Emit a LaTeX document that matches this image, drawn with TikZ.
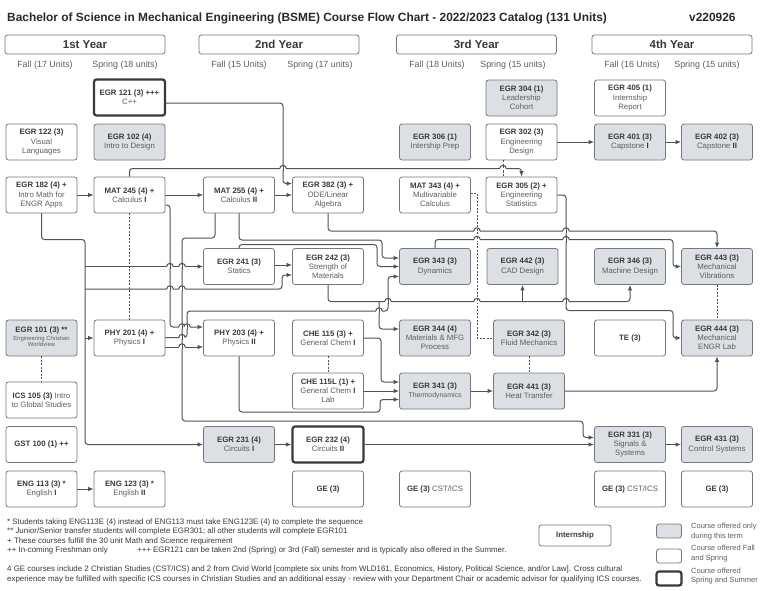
\documentclass[tikz,border=0pt]{standalone}
\usepackage{fontspec}
\setmainfont{Liberation Sans}
\usepackage{tikz}
\usetikzlibrary{arrows.meta}

\definecolor{linegray}{HTML}{4F5257}
\definecolor{boxgray}{HTML}{74777C}
\definecolor{termfill}{HTML}{DCDFE4}
\definecolor{darktext}{HTML}{3A3A3A}
\definecolor{subtext}{HTML}{5E5E5E}
\definecolor{titletext}{HTML}{2A2A2A}

\tikzset{
  course/.style={draw=boxgray, line width=0.8pt, rounded corners=2.5pt, fill=white,
    minimum width=71pt, minimum height=36pt, inner sep=1pt, align=center,
    font=\fontsize{7.8}{9.2}\selectfont, text=subtext},
  termonly/.style={course, fill=termfill},
  summer/.style={course, draw=darktext, line width=2.2pt},
  yearbox/.style={draw=boxgray, line width=0.8pt, rounded corners=2.5pt,
    minimum width=160pt, minimum height=19pt, inner sep=0pt,
    font=\fontsize{11.5}{13}\selectfont\bfseries, text=darktext},
  termlbl/.style={inner sep=0pt, font=\fontsize{8.9}{10}\selectfont, text=subtext},
  note/.style={anchor=base west, inner sep=0pt, font=\fontsize{7.9}{9}\selectfont, text=darktext},
  keytext/.style={anchor=west, inner sep=0pt, align=left, font=\fontsize{7.5}{9.4}\selectfont, text=subtext},
  linkline/.style={draw=linegray, line width=1pt, rounded corners=3pt},
  link/.style={linkline, -{Latex[length=5.5pt,width=4.5pt]}},
  coreq/.style={draw=linegray, line width=0.9pt, dash pattern=on 2pt off 1.5pt},
}

% course code in bold, title lines follow in grey
\newcommand{\code}[1]{\textcolor{darktext}{\textbf{#1}}}
\newcommand{\crs}[2]{\code{#1}\\#2}
\newcommand{\tinyline}[2]{{\fontsize{#1}{#1}\selectfont #2}}
% line hop over a vertical line
\newcommand{\hop}[3][link]{%
  \fill[white] (#2-3.2,#3-1.6) rectangle (#2+3.2,#3+1.6);
  \draw[#1,-] (#2,#3-2.2) -- (#2,#3+2.2);
  \draw[linkline] (#2-3.2,#3) arc[start angle=180,end angle=360,radius=3.2];}

\begin{document}
\begin{tikzpicture}[x=1pt,y=-1pt]
    \useasboundingbox (0,0) rectangle (769,590);
    \fill[white] (0,0) rectangle (769,590);

    \node[anchor=base west, inner sep=0pt, font=\fontsize{11.9}{14}\selectfont\bfseries, text=titletext] (title) at (7,21.5)
      {Bachelor of Science in Mechanical Engineering (BSME) Course Flow Chart - 2022/2023 Catalog (131 Units)};
    \node[anchor=base west, inner sep=0pt, font=\fontsize{11.9}{14}\selectfont\bfseries, text=titletext] (version) at (689,21.5) {v220926};

    \node[yearbox] (yr1) at (85,44.5) {1st Year};
    \node[yearbox] (yr2) at (279,44.5) {2nd Year};
    \node[yearbox] (yr3) at (476.5,44.5) {3rd Year};
    \node[yearbox] (yr4) at (672,44.5) {4th Year};

    \node[termlbl] (fall1) at (45,65.5) {Fall (17 Units)};
    \node[termlbl] (spr1) at (125,65.5) {Spring (18 units)};
    \node[termlbl] (fall2) at (239,65.5) {Fall (15 Units)};
    \node[termlbl] (spr2) at (320,65.5) {Spring (17 units)};
    \node[termlbl] (fall3) at (437,65.5) {Fall (18 Units)};
    \node[termlbl] (spr3) at (513,65.5) {Spring (15 units)};
    \node[termlbl] (fall4) at (632,65.5) {Fall (16 Units)};
    \node[termlbl] (spr4) at (707,65.5) {Spring (15 units)};

    % courses
    \node[summer] (egr121) at (129.5,97.5) {\crs{EGR 121 (3) +++}{C++}};
    \node[termonly] (egr304) at (521.5,98) {\crs{EGR 304 (1)}{Leadership\\Cohort}};
    \node[course] (egr405) at (630,98) {\crs{EGR 405 (1)}{Internship\\Report}};

    \node[course] (egr122) at (41.5,142) {\crs{EGR 122 (3)}{Visual\\Languages}};
    \node[termonly] (egr102) at (129.5,142) {\crs{EGR 102 (4)}{Intro to Design}};
    \node[termonly] (egr306) at (435,142) {\crs{EGR 306 (1)}{Intership Prep}};
    \node[course] (egr302) at (521.5,142) {\crs{EGR 302 (3)}{Engineering\\Design}};
    \node[termonly] (egr401) at (630,142) {\crs{EGR 401 (3)}{Capstone \code{I}}};
    \node[termonly] (egr402) at (717,142) {\crs{EGR 402 (3)}{Capstone \code{II}}};

    \node[course] (egr182) at (41.5,195) {\crs{EGR 182 (4) +}{Intro Math for\\ENGR Apps}};
    \node[course] (mat245) at (129.5,195) {\crs{MAT 245 (4) +}{Calculus \code{I}}};
    \node[course] (mat255) at (239,195) {\crs{MAT 255 (4) +}{Calculus \code{II}}};
    \node[course] (egr382) at (328,195) {\crs{EGR 382 (3) +}{ODE/Linear\\Algebra}};
    \node[course] (mat343) at (435,195) {\crs{MAT 343 (4) +}{Multivariable\\Calculus}};
    \node[course] (egr305) at (521.5,195) {\crs{EGR 305 (2) +}{Engineering\\Statistics}};

    \node[course] (egr241) at (239,266.5) {\crs{EGR 241 (3)}{Statics}};
    \node[course] (egr242) at (328,266.5) {\crs{EGR 242 (3)}{Strength of\\Materials}};
    \node[termonly] (egr343) at (435,266.5) {\crs{EGR 343 (3)}{Dynamics}};
    \node[termonly] (egr442) at (522.5,266.5) {\crs{EGR 442 (3)}{CAD Design}};
    \node[termonly] (egr346) at (630,266.5) {\crs{EGR 346 (3)}{Machine Design}};
    \node[termonly] (egr443) at (717,266.5) {\crs{EGR 443 (3)}{Mechanical\\Vibrations}};

    \node[termonly] (egr101) at (41.5,338) {\crs{EGR 101 (3) **}{\fontsize{5.9}{6.8}\selectfont\begin{tabular}{@{}c@{}}Engineering Christian\\Worldview\end{tabular}}};
    \node[course] (phy201) at (129.5,338) {\crs{PHY 201 (4) +}{Physics \code{I}}};
    \node[course] (phy203) at (239,338) {\crs{PHY 203 (4) +}{Physics \code{II}}};
    \node[course] (che115) at (328,338) {\crs{CHE 115 (3) +}{General Chem \code{I}}};
    \node[termonly] (egr344) at (435,338) {\crs{EGR 344 (4)}{Materials \& MFG\\Process}};
    \node[termonly] (egr342) at (529,338) {\crs{EGR 342 (3)}{Fluid Mechanics}};
    \node[course] (te) at (630,338) {\code{TE (3)}};
    \node[termonly] (egr444) at (717,338) {\crs{EGR 444 (3)}{Mechanical\\ENGR Lab}};

    \node[course] (ics105) at (41.5,400) {\code{ICS 105 (3)} Intro\\to Global Studies};
    \node[course] (che115l) at (328,391) {\crs{CHE 115L (1) +}{General Chem \code{I}\\Lab}};
    \node[termonly] (egr341) at (435,391) {\crs{EGR 341 (3)}{\tinyline{6.9}{Thermodynamics}}};
    \node[termonly] (egr441) at (529,391) {\crs{EGR 441 (3)}{Heat Transfer}};

    \node[course] (gst100) at (41.5,444.5) {\code{GST 100 (1) ++}};
    \node[termonly] (egr231) at (239,444.5) {\crs{EGR 231 (4)}{Circuits \code{I}}};
    \node[summer] (egr232) at (328,444.5) {\crs{EGR 232 (4)}{Circuits \code{II}}};
    \node[termonly] (egr331) at (630,444.5) {\crs{EGR 331 (3)}{Signals \&\\Systems}};
    \node[termonly] (egr431) at (717,444.5) {\crs{EGR 431 (3)}{Control Systems}};

    \node[course] (eng113) at (41.5,489) {\crs{ENG 113 (3) *}{English \code{I}}};
    \node[course] (eng123) at (129.5,489) {\crs{ENG 123 (3) *}{English \code{II}}};
    \node[course] (ge2a) at (328,489) {\code{GE (3)}};
    \node[course] (ge3a) at (435,489) {\code{GE (3)} CST/ICS};
    \node[course] (ge4a) at (630,489) {\code{GE (3)} CST/ICS};
    \node[course] (ge4b) at (717,489) {\code{GE (3)}};

    % junctions
    \coordinate (j241) at (85,266.5);
    \coordinate (j242) at (85,289);
    \coordinate (j201) at (85,338);
    \coordinate (j344) at (379,301.5);
    \coordinate (j442) at (522.5,301.5);

    % prerequisites
    \draw[link] (egr121.east |- 0,103) -- (283,103) -- (283,183.5) -- (egr382.west |- 0,183.5);
    \draw[link] (egr182) -- (mat245);
    \draw[link] (mat245) -- (mat255);
    \draw[link] (mat255) -- (egr382);
    \draw[link] (mat245.north) -- (129.5,168.5) -| (egr305.north);
    \draw[link] (egr302) -- (egr401);
    \draw[link] (egr401) -- (egr402);

    \draw[link] (egr182.south) -- (41.5,239.5) -- (85,239.5) -- (85,444.5) -- (egr231.west);
    \draw[link] (j241) -- (egr241.west);
    \draw[link] (j242) -- (282,289) -- (282,275) -- (egr242.west |- 0,275);
    \draw[link] (j201) -- (phy201.west);

    \draw[link] (mat245.east |- 0,205) -- (170,205) -- (170,327) -- (phy203.west |- 0,327);
    \draw[link] (mat255.south -| 215,0) -- (215,238) -- (182,238) -- (182,421) -- (583,421) -- (583,437.5) -- (egr331.west |- 0,437.5);
    \draw[link] (mat255.south) -- (239,240) -- (382,240) -- (382,258) -- (egr343.west |- 0,258);
    \draw[link] (egr241.north) -- (239,244.5) -- (377,244.5) -- (377,266.5) -- (egr343.west);
    \draw[link] (egr241.east |- 0,265) -- (egr242.west |- 0,265);
    \draw[link] (egr382.south) -- (328,231) -| (egr443.north);
    \draw[link] (egr343.north) -- (435,239.5) -- (673,239.5) -- (673,266.5) -- (egr443.west);
    \draw[link] (egr305.east) -- (566,195) -- (566,310.5) -- (673,310.5) -- (673,338) -- (egr444.west);
    \draw[link] (egr242.south) -- (328,301.5) -| (egr346.south);
    \draw[link] (j442) -- (egr442.south);
    \draw[link] (j344) -- (379,329) -- (egr344.west |- 0,329);
    \draw[link] (phy201.east |- 0,337.5) -- (187,337.5) -- (187,311) -- (388,311) -- (388,276.5) -- (egr343.west |- 0,276.5);
    \draw[link] (phy201.east |- 0,347) -- (phy203.west |- 0,347);
    \draw[link] (che115.east) -- (381,338) -- (381,382) -- (egr341.west |- 0,382);
    \draw[link] (che115l) -- (egr341);
    \draw[link] (phy203.south) -- (239,412) -- (380,412) -- (380,399.5) -- (egr341.west |- 0,399.5);
    \draw[link] (egr341) -- (egr441);
    \draw[link] (egr441.east) -| (egr444.south);
    \draw[link] (egr231) -- (egr232);
    \draw[link] (egr232) -- (egr331);
    \draw[link] (egr331) -- (egr431);
    \draw[link] (eng113) -- (eng123);

    % corequisites
    \draw[coreq] (egr302.south -| 503,0) -- (egr305.north -| 503,0);
    \draw[coreq] (mat245) -- (phy201);
    \draw[coreq] (mat343.east |- 0,193) -- (477,193) -- (477,338) -- (egr342.west);
    \draw[coreq] (che115) -- (che115l);
    \draw[coreq] (egr342) -- (egr441);
    \draw[coreq] (egr443) -- (egr444);
    \draw[coreq] (egr101) -- (ics105);

    % hops
    \hop{283}{168.5}
    \hop[coreq]{503}{168.5}
    \hop{170}{266.5} \hop{182}{266.5}
    \hop{170}{289} \hop{182}{289}
    \hop{182}{327} \hop{187}{327}
    \hop{182}{337.5} \hop{182}{347}
    \hop{379}{311} \hop{388}{301.5}
    \hop[coreq]{477}{301.5} \hop{566}{301.5}
    \hop[coreq]{477}{231} \hop{566}{231}
    \hop[coreq]{477}{239.5} \hop{566}{239.5}

    % notes
    \node[note] (note1) at (7,524) {* Students taking ENG113E (4) instead of ENG113 must take ENG123E (4) to complete the sequence};
    \node[note] (note2) at (7,533.5) {** Junior/Senior transfer students will complete EGR301; all other students will complete EGR101};
    \node[note] (note3) at (7,543) {+ These courses fulfill the 30 unit Math and Science requirement};
    \node[note] (note4) at (7,552.5) {++ In-coming Freshman only};
    \node[note] (note5) at (137,552.5) {+++ EGR121 can be taken 2nd (Spring) or 3rd (Fall) semester and is typically also offered in the Summer.};
    \node[note] (note6) at (7,571) {4 GE courses include 2 Christian Studies (CST/ICS) and 2 from Civid World [complete six units from WLD161, Economics, History, Political Science, and/or Law]. Cross cultural};
    \node[note] (note7) at (7,581) {experience may be fulfilled with specific ICS courses in Christian Studies and an additional essay - review with your Department Chair or academic advisor for qualifying ICS courses.};

    % legend
    \node[course, minimum width=72pt, minimum height=21pt, font=\fontsize{7.8}{9}\selectfont\bfseries, text=darktext] (intern) at (575,535.5) {Internship};
    \node[termonly, minimum width=25pt, minimum height=14pt] (keyterm) at (669,531) {};
    \node[course, minimum width=25pt, minimum height=14pt] (keyboth) at (669,556) {};
    \node[summer, minimum width=25pt, minimum height=14pt] (keysum) at (669,578.5) {};
    \node[keytext] (keytermtxt) at (691,531.5) {Course offered only\\during this term};
    \node[keytext] (keybothtxt) at (691,553.5) {Course offered Fall\\and Spring};
    \node[keytext] (keysumtxt) at (691,576) {Course offered\\Spring and Summer};
\end{tikzpicture}
\end{document}
